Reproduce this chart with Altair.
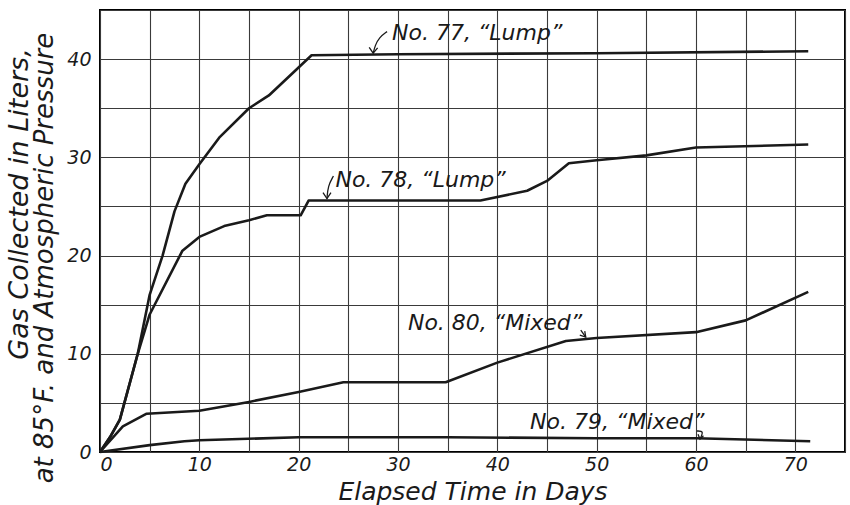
import altair as alt
import pandas as pd

FONT = "DejaVu Sans"
INK = "#1a1a1a"

# ---- data ----
days77 = [0, 1, 2, 3.8, 5, 6.3, 7.5, 8.6, 10, 12, 15, 17, 21.3, 30, 50, 71.3]
gas77 = [0, 1.5, 3.3, 10, 16, 20, 24.5, 27.3, 29.3, 32, 35, 36.3, 40.4, 40.5, 40.6, 40.8]

days78 = [0, 1, 2, 3.8, 5, 8.3, 10, 12.5, 15, 16.8, 20.2, 21, 38.3, 43, 45, 47.2, 50, 55, 60, 71.3]
gas78 = [0, 1.5, 3.3, 10, 14, 20.5, 21.9, 23, 23.6, 24.1, 24.1, 25.6, 25.6, 26.6, 27.6, 29.4, 29.7, 30.2, 31.0, 31.3]

days80 = [0, 2.3, 4.7, 10, 15, 20, 24.5, 34.8, 40, 46.9, 50, 60, 65, 71.3]
gas80 = [0, 2.6, 3.9, 4.2, 5.1, 6.1, 7.1, 7.1, 9.1, 11.3, 11.6, 12.2, 13.4, 16.3]

days79 = [0, 5, 8.5, 10, 20, 25, 35, 50, 60, 71.5]
gas79 = [0, 0.7, 1.1, 1.2, 1.5, 1.5, 1.5, 1.4, 1.4, 1.1]

label_text = ["No. 77, \u201cLump\u201d", "No. 78, \u201cLump\u201d", "No. 80, \u201cMixed\u201d", "No. 79, \u201cMixed\u201d"]
label_day = [29.4, 23.7, 31.0, 43.3]
label_gas = [42.7, 27.7, 13.1, 3.05]

# leader hooks (curves) and arrowheads
hook_seg = ["h77"] * 4 + ["h78"] * 3 + ["h80"] * 2 + ["h79"] * 3
hook_day = [28.9, 28.1, 27.7, 27.5, 23.5, 22.95, 22.85, 48.4, 48.9, 60.1, 60.8, 60.4]
hook_gas = [42.8, 42.2, 41.4, 40.6, 28.1, 27.1, 25.8, 12.4, 11.7, 2.14, 2.14, 1.32]

head_seg = ["a77"] * 3 + ["a78"] * 3 + ["a80"] * 3 + ["a79"] * 3
head_day = [27.1, 27.5, 27.95, 22.45, 22.85, 23.25, 48.3, 48.9, 48.8, 60.2, 60.4, 60.75]
head_gas = [41.2, 40.6, 41.15, 26.4, 25.8, 26.4, 11.9, 11.7, 12.3, 1.8, 1.32, 1.65]

x_ticks = list(range(0, 76, 5))
y_ticks = list(range(0, 46, 5))

y_title_1 = "Gas Collected in Liters,"
y_title_2 = "at 85\u00b0F. and Atmospheric Pressure"
x_title = "Elapsed Time in Days"

# ---- tables ----
rows = []
for name, ds, gs in [("77", days77, gas77), ("78", days78, gas78), ("80", days80, gas80), ("79", days79, gas79)]:
    for i, (d, g) in enumerate(zip(ds, gs)):
        rows.append({"series": name, "ord": i, "day": d, "gas": g})
df = pd.DataFrame(rows)

labels = pd.DataFrame({"text": label_text, "day": label_day, "gas": label_gas})
hooks = pd.DataFrame({"seg": hook_seg, "day": hook_day, "gas": hook_gas, "ord": range(len(hook_seg))})
heads = pd.DataFrame({"seg": head_seg, "day": head_day, "gas": head_gas, "ord": range(len(head_seg))})

xscale = alt.Scale(domain=[0, 75], nice=False, zero=False)
yscale = alt.Scale(domain=[0, 45], nice=False)

lab_expr = "datum.value % 10 == 0 ? datum.label : ''"

X = alt.X("day:Q", scale=xscale,
          axis=alt.Axis(values=x_ticks, labelExpr=lab_expr, title=x_title,
                        labelPadding=3, titleY=47, titleBaseline="alphabetic",
                        titleFontSize=25))
Y = alt.Y("gas:Q", scale=yscale,
          axis=alt.Axis(values=y_ticks, labelExpr=lab_expr, title=None, labelPadding=9))

lines = alt.Chart(df).mark_line(color=INK, strokeWidth=2.6, strokeJoin="round").encode(
    x=X, y=Y, detail="series:N", order="ord:Q")

hook_lines = alt.Chart(hooks).mark_line(color=INK, strokeWidth=1.3, interpolate="basis").encode(
    x="day:Q", y="gas:Q", detail="seg:N", order="ord:Q")

head_lines = alt.Chart(heads).mark_line(color=INK, strokeWidth=1.3).encode(
    x="day:Q", y="gas:Q", detail="seg:N", order="ord:Q")

text_labels = alt.Chart(labels).mark_text(
    font=FONT, fontSize=22, fontStyle="italic", color=INK, align="left", baseline="middle"
).encode(x="day:Q", y="gas:Q", text="text:N")

t1 = alt.Chart(pd.DataFrame({"t": [y_title_1]})).mark_text(
    font=FONT, fontSize=27, fontStyle="italic", color=INK, angle=270, align="center", baseline="middle"
).encode(x=alt.value(-80), y=alt.value(194), text="t:N")

t2 = alt.Chart(pd.DataFrame({"t": [y_title_2]})).mark_text(
    font=FONT, fontSize=26, fontStyle="italic", color=INK, angle=270, align="center", baseline="middle"
).encode(x=alt.value(-55), y=alt.value(248), text="t:N")

chart = alt.layer(lines, hook_lines, head_lines, text_labels, t1, t2).properties(
    width=745, height=442,
    padding={"left": 100, "top": 10, "right": 5, "bottom": 53},
    autosize="none",
    background="white",
).configure_view(
    stroke="black", strokeWidth=2
).configure_axis(
    grid=True, gridColor="#3a3a3a", gridWidth=1.1, domain=False, ticks=False,
    labelFont=FONT, labelFontSize=19, labelFontStyle="italic", labelColor=INK,
    titleFont=FONT, titleFontStyle="italic", titleFontWeight="normal", titleColor=INK,
)

chart.save("out.html", embed_options={"renderer": "svg", "actions": False})
